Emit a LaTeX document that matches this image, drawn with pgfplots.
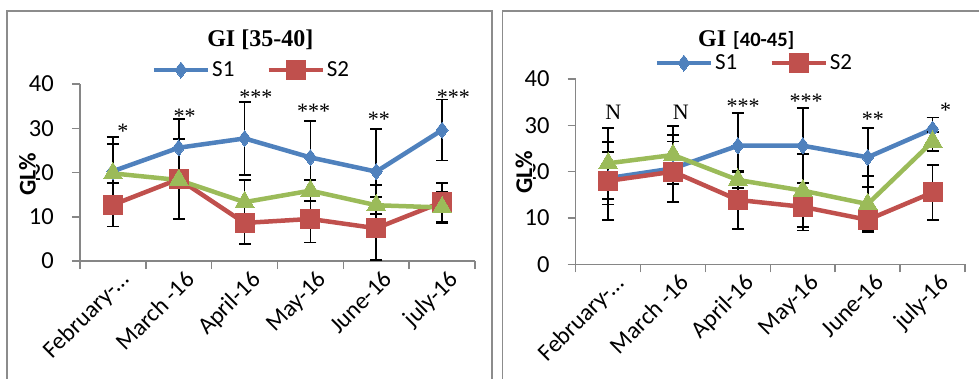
\documentclass[border=0pt]{standalone}
\usepackage{pgfplots}
\pgfplotsset{compat=1.18}
\usepackage{pgfplotstable}
\usepackage{fontspec}
\setmainfont{Carlito}
\newfontfamily\tnr{Liberation Serif}
\definecolor{sblue}{HTML}{4F81BD}
\definecolor{sred}{HTML}{C0504D}
\definecolor{sgreen}{HTML}{9BBB59}
\definecolor{axgray}{HTML}{868686}
\definecolor{frgray}{HTML}{8C8C8C}

\pgfplotstableread{
x s1 e1 s2 e2 s3 e3
0 20.3 7.8 12.7 4.9 19.8 6.6
1 25.6 6.5 18.5 9.0 18.3 1.1
2 27.7 8.3  8.6 4.7 13.3 5.0
3 23.4 8.3  9.5 5.3 15.9 2.4
4 20.2 9.6  7.4 7.1 12.6 4.5
5 29.6 6.9 13.3 4.4 12.1 3.6
}\leftdata
\pgfplotstableread{
x s1 e1 s2 e2 s3 e3
0 18.6 5.7 18.0 8.4 21.8 7.7
1 20.7 7.2 20.0 6.5 23.6 6.3
2 25.6 7.1 13.9 6.3 18.2 1.8
3 25.6 8.1 12.4 5.1 15.9 7.9
4 23.1 6.4  9.6 2.4 13.0 6.1
5 29.2 2.5 15.5 5.9 26.5 2.0
}\rightdata

\pgfplotsset{
  gistyle/.style={
    scale only axis, clip=false,
    xmin=-0.5, xmax=5.5, ymin=0, ymax=40,
    axis lines=left,
    axis line style={-, draw=axgray, line width=1.5pt},
    xtick={0,...,5},
    xticklabels={February-…, March -16, April-16, May-16, June-16, july-16},
    minor xtick={-0.5,0.5,...,5.5},
    ytick={0,10,20,30,40},
    tick align=outside,
    major tick length=8pt, minor tick length=8pt,
    major x tick style={draw=none},
    minor x tick style={draw=axgray, line width=1.5pt},
    major y tick style={draw=axgray, line width=1.5pt},
    /pgf/number format/assume math mode=true,
    yticklabel style={font=\fontsize{24.5}{27}\selectfont, inner sep=0pt, anchor=east, xshift=-18pt},
    xticklabel style={font=\fontsize{24}{27}\selectfont, inner sep=0pt, rotate=45, anchor=north east, xshift=4pt, yshift=-4pt},
    legend style={draw=none, fill=none, font=\fontsize{23}{26}\selectfont, anchor=center,
      /tikz/every even column/.append style={column sep=30pt}},
    legend columns=2,
    legend image code/.code={\draw[mark repeat=2, mark phase=2] plot coordinates {(0pt,0pt) (27pt,0pt) (54pt,0pt)};},
    every axis plot/.append style={line width=4.5pt},
  },
  ebars/.style={error bars/y dir=both, error bars/y explicit,
      error bars/error bar style={black, line width=1.8pt},
      error bars/error mark options={black, mark size=6pt, line width=1.8pt, rotate=90}},
}

\begin{document}
\begin{tikzpicture}[x=1pt, y=1pt]
\useasboundingbox (0,0) rectangle (979,378);
% frames
\draw[frgray, line width=1.5pt] (7,-5) -- (7,367) -- (492,367) -- (492,-5);
\draw[frgray, line width=1.5pt] (502.3,-5) -- (502.3,367) -- (985,367);

% left chart
\begin{axis}[gistyle, at={(80pt,117pt)}, anchor=south west, width=395pt, height=177pt,
  legend style={at={(0.434,1.079)}}]
\addplot[sblue, mark=diamond*, mark size=8pt, mark options={solid, line width=0pt}, ebars]
  table[x=x, y=s1, y error=e1] {\leftdata};
\addlegendentry{S1}
\addplot[sred, mark=square*, mark size=9.5pt, mark options={solid, line width=0pt}, ebars]
  table[x=x, y=s2, y error=e2] {\leftdata};
\addlegendentry{S2}
\addplot[sgreen, mark=triangle*, mark size=11pt, mark options={solid, line width=0pt}, forget plot, ebars]
  table[x=x, y=s3, y error=e3] {\leftdata};
\node[font=\tnr\fontsize{22}{24}\selectfont, anchor=base] at (axis cs:0.15,27.6) {*};
\node[font=\tnr\fontsize{22}{24}\selectfont, anchor=base] at (axis cs:1.09,31.0) {**};
\node[font=\tnr\fontsize{22}{24}\selectfont, anchor=base] at (axis cs:2.17,35.3) {***};
\node[font=\tnr\fontsize{22}{24}\selectfont, anchor=base] at (axis cs:3.05,32.1) {***};
\node[font=\tnr\fontsize{22}{24}\selectfont, anchor=base] at (axis cs:4.04,30.4) {**};
\node[font=\tnr\fontsize{22}{24}\selectfont, anchor=base] at (axis cs:5.17,35.3) {***};
\end{axis}

% right chart
\begin{axis}[gistyle, at={(575.7pt,113.7pt)}, anchor=south west, width=389.3pt, height=185.3pt,
  legend style={at={(0.459,1.086)}}]
\addplot[sblue, mark=diamond*, mark size=8pt, mark options={solid, line width=0pt}, ebars]
  table[x=x, y=s1, y error=e1] {\rightdata};
\addlegendentry{S1}
\addplot[sred, mark=square*, mark size=9.5pt, mark options={solid, line width=0pt}, ebars]
  table[x=x, y=s2, y error=e2] {\rightdata};
\addlegendentry{S2}
\addplot[sgreen, mark=triangle*, mark size=11pt, mark options={solid, line width=0pt}, forget plot, ebars]
  table[x=x, y=s3, y error=e3] {\rightdata};
\node[font=\tnr\fontsize{22}{24}\selectfont, anchor=base] at (axis cs:0.08,31.3) {N};
\node[font=\tnr\fontsize{22}{24}\selectfont, anchor=base] at (axis cs:1.12,31.3) {N};
\node[font=\tnr\fontsize{22}{24}\selectfont, anchor=base] at (axis cs:2.08,32.5) {***};
\node[font=\tnr\fontsize{22}{24}\selectfont, anchor=base] at (axis cs:3.05,33.7) {***};
\node[font=\tnr\fontsize{22}{24}\selectfont, anchor=base] at (axis cs:4.08,29.8) {**};
\node[font=\tnr\fontsize{22}{24}\selectfont, anchor=base] at (axis cs:5.2,31.6) {*};
\end{axis}

% titles
\node[anchor=base, font=\tnr\bfseries\fontsize{24}{26}\selectfont] at (260.3,331.3) {GI [35-40]};
\node[anchor=base west, inner sep=0pt] at (698,331.3) {{\tnr\bfseries\fontsize{24}{26}\selectfont GI}\hspace{7pt}{\bfseries\fontsize{20.5}{23}\selectfont [40-45]}};
% y labels
\node[rotate=90, fill=white, inner sep=0.5pt, font=\bfseries\fontsize{24}{26}\selectfont] at (27.5,204) {GL\%};
\node[rotate=90, fill=white, inner sep=0.5pt, font=\bfseries\fontsize{24}{26}\selectfont] at (524,205.5) {GL\%};
\end{tikzpicture}
\end{document}
